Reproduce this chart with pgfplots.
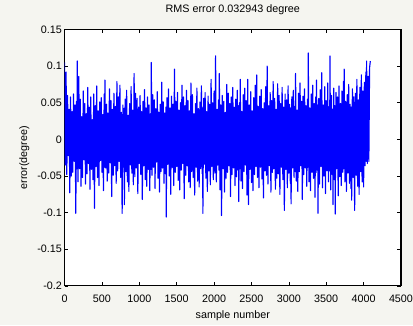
\documentclass[border=0pt]{standalone}
\usepackage{pgfplots}
\pgfplotsset{compat=1.18}
\usepackage{fontspec}
\setmainfont{Liberation Sans}
\usetikzlibrary{backgrounds}
\definecolor{bg}{RGB}{245,245,240}
\begin{document}
\begin{tikzpicture}
\begin{axis}[
  scale only axis, width=336bp, height=256bp,
  xmin=0, xmax=4500, ymin=-0.2, ymax=0.15,
  xtick={0,500,1000,1500,2000,2500,3000,3500,4000,4500},
  xticklabels={0,500,1000,1500,2000,2500,3000,3500,4000,4500},
  ytick={-0.2,-0.15,-0.1,-0.05,0,0.05,0.1,0.15},
  yticklabels={-0.2,-0.15,-0.1,-0.05,0,0.05,0.1,0.15},
  tick align=inside, major tick length=3.5bp,
  axis line style={black, line width=1.2bp},
  tick style={black, line width=0.6bp},
  axis background/.style={fill=white},
  ticklabel style={font=\fontsize{10.8}{12}\selectfont, inner sep=0pt},
  xticklabel style={anchor=base, yshift=-16.2bp},
  yticklabel style={anchor=east, xshift=-2.5bp},
  title={RMS error 0.032943 degree},
  title style={font=\fontsize{10.8}{12}\selectfont, at={([yshift=11.5bp]axis description cs:0.5,1)}, anchor=base},
  xlabel={sample number},
  xlabel style={font=\fontsize{10.8}{12}\selectfont, at={([yshift=-32.8bp]axis description cs:0.5,0)}, anchor=base},
  ylabel={error(degree)},
  ylabel style={font=\fontsize{10.8}{12}\selectfont, at={([xshift=-37.5bp]axis description cs:0,0.5)}, anchor=base},
]
\addplot[blue, line width=1.15bp, line join=round] coordinates {
(0,0.105) (10,-0.035) (20,0.092) (30,-0.048) (40,0.060) (50,-0.022) (60,0.041) (70,-0.073) (80,0.058) (90,-0.050)
(100,0.038) (110,-0.045) (120,0.062) (130,-0.030) (140,0.047) (150,-0.101) (160,0.052) (165,-0.040) (170,0.107) (180,-0.058) (190,0.086)
(200,-0.040) (210,0.055) (220,-0.064) (230,0.031) (240,-0.052) (250,0.066) (260,-0.028) (270,0.049) (280,-0.061) (290,0.035)
(300,-0.047) (310,0.071) (320,-0.033) (330,0.044) (340,-0.068) (350,0.058) (360,-0.041) (370,0.027) (380,-0.055) (390,0.062)
(400,-0.094) (410,0.046) (420,-0.037) (430,0.073) (440,-0.052) (450,0.039) (460,-0.063) (470,0.051) (480,-0.029) (490,0.057)
(500,-0.045) (510,0.034) (520,-0.070) (530,0.062) (535,-0.038) (540,0.081) (550,-0.039) (560,0.048) (570,-0.057) (580,0.036) (590,-0.046)
(600,0.069) (610,-0.032) (620,0.053) (630,-0.078) (640,0.041) (650,-0.049) (660,0.063) (670,-0.036) (680,0.045) (690,-0.060)
(700,0.079) (710,-0.043) (720,0.058) (730,-0.030) (740,0.074) (750,-0.052) (760,0.037) (770,-0.101) (780,0.047) (790,-0.038) (795,0.042)
(800,-0.089) (810,0.055) (820,-0.044) (830,0.067) (840,-0.058) (850,0.033) (860,-0.071) (870,0.049) (880,-0.035) (890,0.072)
(900,-0.046) (910,0.040) (920,-0.062) (930,0.090) (940,-0.051) (950,0.063) (960,-0.039) (970,0.056) (980,-0.074) (990,0.044)
(1000,-0.033) (1010,0.060) (1020,-0.048) (1030,0.038) (1040,-0.082) (1050,0.052) (1060,-0.036) (1070,0.068) (1080,-0.055) (1090,0.043)
(1100,-0.064) (1110,0.058) (1120,-0.041) (1130,0.047) (1140,-0.070) (1150,0.035) (1155,-0.041) (1160,0.105) (1170,-0.049) (1180,0.061) (1190,-0.038)
(1200,0.054) (1210,-0.067) (1220,0.042) (1230,-0.031) (1240,0.065) (1250,-0.053) (1260,0.037) (1270,-0.072) (1280,0.048) (1290,-0.044)
(1300,0.078) (1310,-0.039) (1320,0.051) (1330,-0.060) (1340,0.036) (1350,-0.047) (1355,0.044) (1360,-0.106) (1370,0.057) (1380,-0.034) (1390,0.069)
(1400,-0.050) (1410,0.043) (1420,-0.075) (1430,0.059) (1440,-0.038) (1450,0.048) (1460,-0.063) (1470,0.096) (1480,-0.045) (1490,0.052)
(1500,-0.037) (1510,0.064) (1520,-0.056) (1530,0.040) (1540,-0.069) (1550,0.050) (1560,-0.042) (1570,0.074) (1580,-0.033) (1590,0.058)
(1600,-0.081) (1610,0.046) (1620,-0.049) (1630,0.067) (1640,-0.036) (1650,0.053) (1660,-0.058) (1670,0.039) (1680,-0.066) (1690,0.077)
(1700,-0.044) (1710,0.061) (1720,-0.052) (1730,0.035) (1740,-0.076) (1750,0.049) (1760,-0.038) (1770,0.070) (1780,-0.057) (1790,0.042)
(1800,-0.065) (1810,0.051) (1820,-0.040) (1830,0.073) (1840,-0.047) (1845,0.043) (1850,-0.101) (1860,0.056) (1870,-0.034) (1880,0.064) (1890,-0.053)
(1900,0.038) (1910,-0.071) (1920,0.059) (1930,-0.043) (1940,0.048) (1950,-0.062) (1960,0.082) (1970,-0.037) (1980,0.050) (1990,-0.055)
(2000,0.066) (2010,-0.046) (2020,0.114) (2030,-0.058) (2040,0.041) (2050,-0.035) (2060,0.054) (2065,-0.042) (2070,0.090) (2080,-0.069) (2090,0.047)
(2100,-0.104) (2110,0.060) (2120,-0.040) (2130,0.052) (2140,-0.072) (2150,0.037) (2160,-0.053) (2170,0.075) (2180,-0.045) (2190,0.063)
(2200,-0.036) (2210,0.049) (2220,-0.078) (2230,0.058) (2240,-0.048) (2250,0.071) (2260,-0.039) (2270,0.044) (2280,-0.063) (2290,0.055)
(2300,-0.051) (2310,0.067) (2320,-0.042) (2325,0.046) (2330,-0.085) (2340,0.050) (2345,-0.040) (2350,0.082) (2360,-0.057) (2370,0.038) (2380,-0.067) (2390,0.061)
(2400,-0.044) (2410,0.070) (2420,-0.035) (2430,0.053) (2440,-0.076) (2450,0.082) (2460,-0.089) (2470,0.047) (2480,-0.041) (2490,0.065)
(2500,-0.059) (2510,0.039) (2520,-0.070) (2530,0.057) (2540,-0.048) (2550,0.074) (2560,-0.037) (2570,0.088) (2580,-0.052) (2590,0.045)
(2600,-0.066) (2610,0.059) (2620,-0.038) (2630,0.068) (2640,-0.054) (2650,0.042) (2660,-0.080) (2670,0.050) (2680,-0.043) (2690,0.072)
(2700,-0.049) (2710,0.100) (2720,-0.061) (2730,0.046) (2740,-0.036) (2750,0.064) (2760,-0.072) (2770,0.053) (2780,-0.045) (2790,0.079)
(2800,-0.040) (2810,0.056) (2820,-0.068) (2830,0.041) (2840,-0.053) (2850,0.076) (2860,-0.047) (2870,0.060) (2880,-0.075) (2890,0.049)
(2900,-0.038) (2910,0.071) (2920,-0.055) (2930,0.044) (2940,-0.097) (2950,0.062) (2960,-0.041) (2970,0.054) (2980,-0.066) (2990,0.073)
(3000,-0.046) (3010,0.048) (3020,-0.060) (3025,0.043) (3030,-0.088) (3040,0.058) (3050,-0.039) (3060,0.067) (3070,-0.052) (3080,0.045) (3085,-0.044) (3090,0.090)
(3100,-0.057) (3110,0.040) (3120,-0.071) (3130,0.063) (3140,-0.044) (3150,0.077) (3160,-0.036) (3170,0.052) (3180,-0.082) (3190,0.059)
(3200,-0.048) (3210,0.069) (3220,-0.039) (3230,0.046) (3240,-0.064) (3250,0.055) (3255,-0.038) (3260,0.118) (3270,-0.058) (3280,0.043) (3290,-0.070)
(3300,0.062) (3310,-0.045) (3320,0.074) (3330,-0.053) (3340,0.049) (3350,-0.079) (3360,0.058) (3365,-0.045) (3370,0.081) (3380,-0.042) (3385,0.047) (3390,-0.101)
(3400,0.056) (3410,-0.061) (3420,0.068) (3430,-0.037) (3440,0.091) (3450,-0.066) (3460,0.047) (3470,-0.050) (3480,0.072) (3490,-0.074)
(3500,0.053) (3510,-0.043) (3520,0.077) (3530,-0.058) (3540,0.045) (3545,-0.043) (3550,0.114) (3560,-0.069) (3570,0.060) (3580,-0.048) (3585,0.041) (3590,-0.089)
(3600,0.070) (3610,-0.055) (3615,0.046) (3620,-0.102) (3630,0.064) (3640,-0.040) (3650,0.058) (3660,-0.077) (3670,0.073) (3680,-0.051) (3690,0.049)
(3700,-0.063) (3710,0.066) (3720,-0.045) (3730,0.079) (3735,-0.040) (3740,0.096) (3750,-0.058) (3760,0.052) (3770,-0.071) (3780,0.061) (3790,-0.046)
(3800,0.075) (3810,-0.060) (3820,0.048) (3830,-0.067) (3835,0.044) (3840,-0.083) (3850,0.069) (3860,-0.052) (3870,0.058) (3880,-0.097) (3890,0.063)
(3900,-0.049) (3910,0.082) (3920,-0.064) (3930,0.054) (3940,-0.075) (3950,0.071) (3960,-0.044) (3970,0.088) (3980,-0.058) (3990,0.066)
(4000,-0.065) (4010,0.078) (4020,-0.036) (4030,0.092) (4035,-0.030) (4040,0.107) (4050,-0.033) (4060,0.086) (4070,-0.030) (4080,0.098) (4090,0.107)
};
\coordinate (sw) at (rel axis cs:0,0);
\coordinate (ne) at (rel axis cs:1,1);
\end{axis}
\begin{scope}[on background layer]
\fill[bg] ([shift={(-64.5bp,-39.5bp)}]sw) rectangle ([shift={(12bp,29.5bp)}]ne);
\end{scope}
\end{tikzpicture}
\end{document}
